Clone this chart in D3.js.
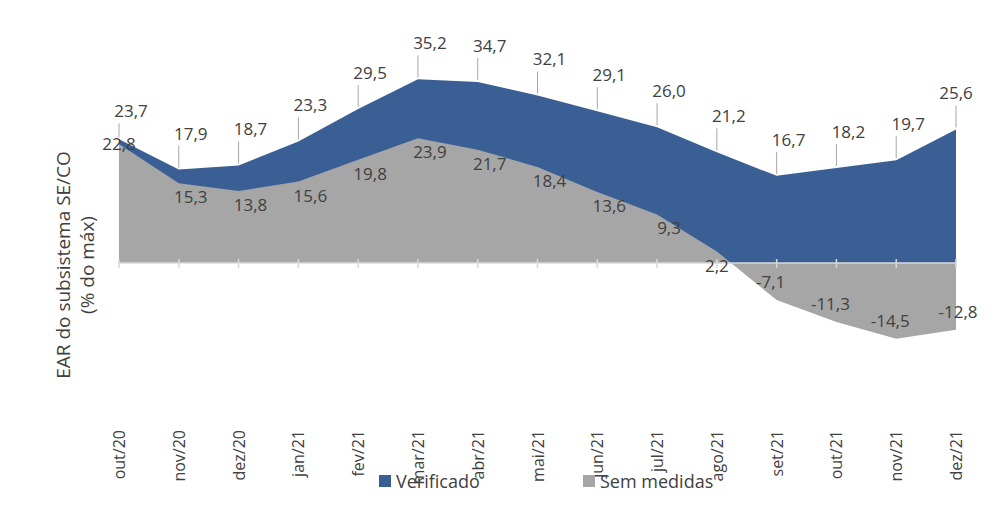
<!DOCTYPE html>
<html><head><meta charset="utf-8">
<script src="https://cdn.jsdelivr.net/npm/d3@7"></script>
<style>body{margin:0;background:#fff}text{font-family:"Open Sans","Liberation Sans",sans-serif}</style>
</head><body><svg id="chart" width="1000" height="530"></svg>
<script>
const months = ["out/20","nov/20","dez/20","jan/21","fev/21","mar/21","abr/21","mai/21","jun/21","jul/21","ago/21","set/21","out/21","nov/21","dez/21"];
const verificado = [23.7,17.9,18.7,23.3,29.5,35.2,34.7,32.1,29.1,26.0,21.2,16.7,18.2,19.7,25.6];
const semMedidas = [22.8,15.3,13.8,15.6,19.8,23.9,21.7,18.4,13.6,9.3,2.2,-7.1,-11.3,-14.5,-12.8];

const svg = d3.select("#chart");
const fmt = v => v.toFixed(1).replace(".", ",");
const x = d3.scalePoint().domain(months).range([119, 956]);
const y = d3.scaleLinear().domain([-15, 35.2]).range([341.3, 79.3]);
const blue = "#3a5f94", gray = "#a6a6a6", txt = "#404040";

const area = d3.area().x((d, i) => x(months[i])).y0(y(0)).y1(d => y(d));
svg.append("path").attr("d", area(verificado)).attr("fill", blue);
svg.append("path").attr("d", area(semMedidas)).attr("fill", gray);

// axis line and ticks
svg.append("line").attr("x1", 119).attr("x2", 956).attr("y1", y(0)).attr("y2", y(0))
  .attr("stroke", "#d9d9d9").attr("stroke-width", 1.5);
svg.selectAll(".tk").data(months).enter().append("line")
  .attr("x1", d => x(d)).attr("x2", d => x(d)).attr("y1", y(0) - 4).attr("y2", y(0) + 5)
  .attr("stroke", "#d9d9d9").attr("stroke-width", 1.5);
svg.selectAll(".xl").data(months).enter().append("text")
  .attr("transform", d => `translate(${x(d) + 6},430) rotate(-90)`)
  .attr("text-anchor", "end").attr("font-size", 16).attr("fill", txt).text(d => d);

// verificado labels with leader lines
verificado.forEach((v, i) => {
  const px = x(months[i]), py = y(v);
  const off = i === 0 ? 20 : 28;
  svg.append("line").attr("x1", px).attr("x2", px).attr("y1", py - 2).attr("y2", py - off + 4)
    .attr("stroke", "#a6a6a6");
  svg.append("text").attr("x", px + (i === 14 ? 0 : 12)).attr("y", py - off - 2)
    .attr("text-anchor", "middle").attr("font-size", 17).attr("fill", txt).text(fmt(v));
});
// sem medidas labels
semMedidas.forEach((v, i) => {
  const px = x(months[i]), py = y(v);
  let lx = px + 12, ly = py + 20;
  if (i === 0) { lx = px; ly = py + 6; }
  if (v < 0) { lx = px - (i === 14 ? -2 : 6); ly = py - 12; }
  if (i === 10) { lx = px; ly = py + 20; }
  svg.append("text").attr("x", lx).attr("y", ly).attr("text-anchor", "middle")
    .attr("font-size", 17).attr("fill", txt).text(fmt(v));
});

// y title
svg.append("text").attr("transform", "translate(70,265) rotate(-90)").attr("text-anchor", "middle")
  .attr("font-size", 19).attr("fill", txt).text("EAR do subsistema SE/CO");
svg.append("text").attr("transform", "translate(94,265) rotate(-90)").attr("text-anchor", "middle")
  .attr("font-size", 19).attr("fill", txt).text("(% do máx)");

// legend
const legend = [["Verificado", blue, 379], ["Sem medidas", gray, 583]];
legend.forEach(([name, c, lx]) => {
  svg.append("rect").attr("x", lx).attr("y", 475).attr("width", 12).attr("height", 12).attr("fill", c);
  svg.append("text").attr("x", lx + 17).attr("y", 488).attr("font-size", 18).attr("fill", txt).text(name);
});
</script></body></html>
